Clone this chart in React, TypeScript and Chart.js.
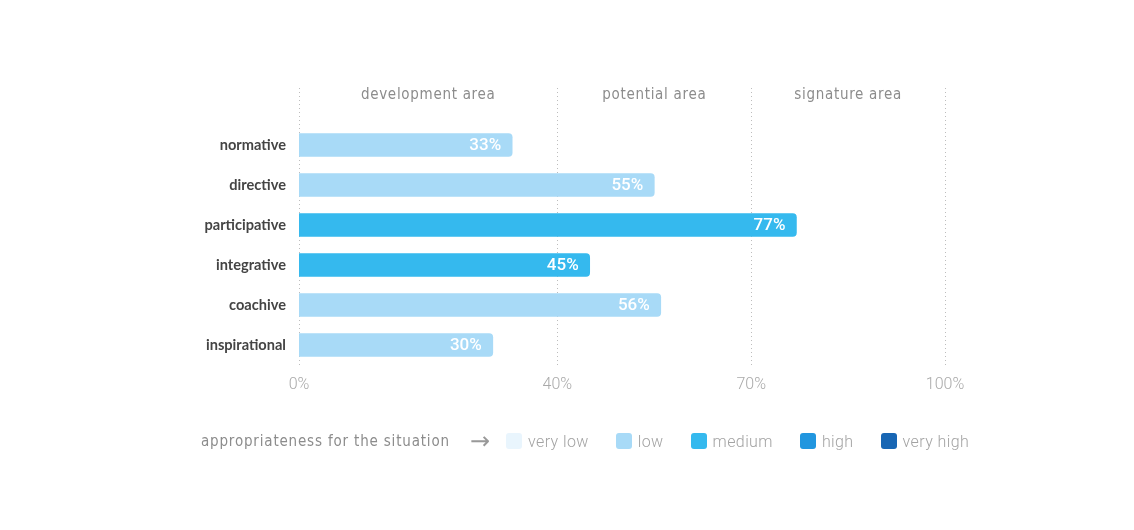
import React, { useEffect, useRef } from 'react';
import { Chart, registerables, Plugin } from 'chart.js';

Chart.register(...registerables);

const categories = ['normative', 'directive', 'participative', 'integrative', 'coachive', 'inspirational'];
const values = [33, 55, 77, 45, 56, 30];
const levels = ['low', 'low', 'medium', 'medium', 'low', 'low'];
const xTicks = [0, 40, 70, 100];
const areaLabels = ['development area', 'potential area', 'signature area'];

const levelNames = ['very low', 'low', 'medium', 'high', 'very high'];
const levelColors: Record<string, string> = {
  'very low': '#e9f5fd',
  low: '#a8daf7',
  medium: '#35b9ee',
  high: '#2196df',
  'very high': '#1866b4',
};

const condensed = '"Liberation Sans Narrow", "DejaVu Sans Condensed", "Roboto", sans-serif';

const overlayPlugin: Plugin<'bar'> = {
  id: 'overlay',
  beforeDatasetsDraw(chart) {
    const { ctx } = chart;
    const x = chart.scales.x;
    ctx.save();
    ctx.strokeStyle = '#bdbdbd';
    ctx.lineWidth = 1;
    ctx.setLineDash([1, 3]);
    xTicks.forEach(t => {
      const px = Math.round(x.getPixelForValue(t)) + 0.5;
      ctx.beginPath();
      ctx.moveTo(px, 88);
      ctx.lineTo(px, 368);
      ctx.stroke();
    });
    ctx.setLineDash([]);
    ctx.fillStyle = '#8c8c8c';
    ctx.font = `15px ${condensed}`;
    (ctx as any).letterSpacing = '0.7px';
    ctx.textAlign = 'center';
    ctx.textBaseline = 'middle';
    areaLabels.forEach((label, i) => {
      const mid = (x.getPixelForValue(xTicks[i]) + x.getPixelForValue(xTicks[i + 1])) / 2;
      ctx.fillText(label, mid, 95);
    });
    ctx.restore();
  },
  afterDatasetsDraw(chart) {
    const { ctx } = chart;
    const meta = chart.getDatasetMeta(0);
    ctx.save();
    ctx.fillStyle = '#ffffff';
    ctx.font = '500 17px Roboto, "Noto Sans", sans-serif';
    ctx.textAlign = 'right';
    ctx.textBaseline = 'middle';
    meta.data.forEach((bar: any, i) => {
      ctx.fillText(`${values[i]}%`, bar.x - 11, bar.y + 1);
    });
    ctx.restore();
  },
};

const App: React.FC = () => {
  const canvasRef = useRef<HTMLCanvasElement | null>(null);

  useEffect(() => {
    if (!canvasRef.current) return;
    const chart = new Chart(canvasRef.current, {
      type: 'bar',
      data: {
        labels: categories,
        datasets: [
          {
            data: values,
            backgroundColor: levels.map(l => levelColors[l]),
            borderRadius: 4,
            barThickness: 23,
          },
        ],
      },
      options: {
        indexAxis: 'y',
        animation: false,
        responsive: true,
        maintainAspectRatio: false,
        layout: { padding: { left: 0, right: 189, top: 125, bottom: 125 } },
        plugins: {
          legend: { display: false },
          tooltip: { enabled: false },
        },
        scales: {
          x: {
            min: 0,
            max: 100,
            afterBuildTicks: scale => {
              scale.ticks = xTicks.map(v => ({ value: v }));
            },
            afterFit: scale => {
              scale.height = 40;
            },
            grid: { display: false, drawTicks: false },
            border: { display: false },
            ticks: {
              padding: 10,
              color: '#a9a9a9',
              font: { family: 'Roboto', weight: 300, size: 16 },
              callback: v => `${v}%`,
            },
          },
          y: {
            afterFit: scale => {
              scale.width = 299;
            },
            grid: { display: false, drawTicks: false },
            border: { display: false },
            ticks: {
              padding: 13,
              color: '#444444',
              font: { family: 'Lato', weight: 'bold', size: 14.6 },
            },
          },
        },
      },
      plugins: [overlayPlugin],
    });
    return () => chart.destroy();
  }, []);

  return (
    <div style={{ position: 'fixed', left: 0, top: 0, width: 1134, height: 530, background: '#fff' }}>
      <canvas ref={canvasRef}></canvas>
      <div
        style={{
          position: 'absolute',
          left: 201,
          top: 430,
          height: 22,
          display: 'flex',
          alignItems: 'center',
          fontSize: 15,
          color: '#9a9a9a',
        }}
      >
        <span style={{ fontFamily: condensed, letterSpacing: '0.82px', color: '#8c8c8c' }}>
          appropriateness for the situation
        </span>
        <span style={{ fontFamily: '"DejaVu Sans"', fontSize: 24, lineHeight: '22px', margin: '0 16px 0 20px', color: '#999' }}>→</span>
        {levelNames.map((name, i) => (
          <span key={name} style={{ display: 'flex', alignItems: 'center', marginRight: i < levelNames.length - 1 ? 27 : 0 }}>
            <span
              style={{
                display: 'inline-block',
                width: 16,
                height: 16,
                borderRadius: 3,
                background: levelColors[name],
                marginRight: 6,
              }}
            />
            <span style={{ fontFamily: 'Roboto', fontWeight: 300, fontSize: 16, color: '#a3a3a3', letterSpacing: '0.4px' }}>{name}</span>
          </span>
        ))}
      </div>
    </div>
  );
};

export default App;
